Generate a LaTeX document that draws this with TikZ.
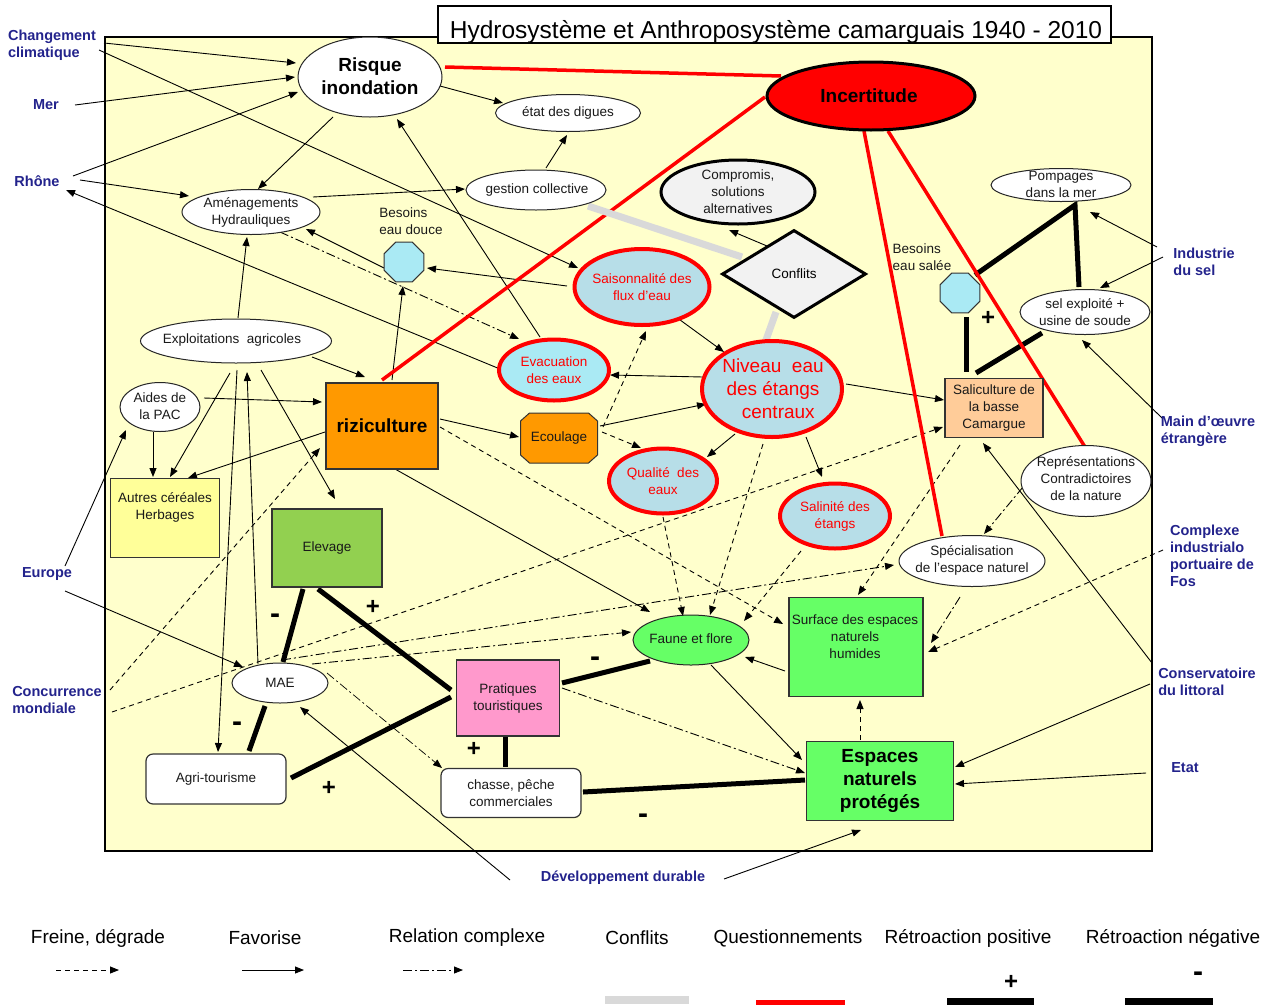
\documentclass[tikz,border=0pt]{standalone}
\usepackage{fontspec}
\setmainfont{Liberation Sans}
\usetikzlibrary{shapes.geometric,arrows.meta,calc}
\pgfdeclarelayer{back}
\pgfdeclarelayer{links}
\pgfsetlayers{back,links,main}
\definecolor{bgyellow}{RGB}{255,255,204}
\definecolor{lblue}{RGB}{183,222,232}
\definecolor{cyanf}{RGB}{170,234,244}
\definecolor{navylab}{RGB}{35,35,140}
\definecolor{orng}{RGB}{255,153,0}
\definecolor{peach}{RGB}{255,204,153}
\definecolor{ylw}{RGB}{255,255,153}
\definecolor{elev}{RGB}{146,208,80}
\definecolor{grn}{RGB}{102,255,102}
\definecolor{pinkf}{RGB}{255,153,204}
\definecolor{lgray}{RGB}{242,242,242}
\definecolor{conflgray}{RGB}{217,217,217}
\newcommand\fsz[2]{\fontsize{#1pt}{#2pt}\selectfont}
\tikzset{
  ell/.style={ellipse, draw=black!85, line width=1pt, fill=white, inner sep=0pt},
  redell/.style={ellipse, draw=red, line width=4pt, fill=lblue, inner sep=0pt},
  thkell/.style={ellipse, draw=black, line width=3pt, fill=lgray, inner sep=0pt},
  boxn/.style={rectangle, draw=black!80, line width=1.2pt, inner sep=0pt},
  rbox/.style={boxn, rounded corners=7pt, fill=white},
  oct/.style={regular polygon, regular polygon sides=8, draw=black!80, line width=1pt, fill=cyanf, minimum size=43pt, inner sep=0pt},
  txt/.style={align=center, inner sep=0pt, font=\fsz{13.5}{17}, text=black!90},
  redtxt/.style={txt, text=red},
  bigtxt/.style={align=center, inner sep=0pt, font=\bfseries\fsz{19}{23}},
  extlab/.style={align=left, inner sep=0pt, text=navylab, font=\bfseries\fsz{14.5}{17}},
  sign/.style={inner sep=0pt, font=\bfseries\fsz{24}{24}},
  minus/.style={inner sep=0pt, font=\bfseries\fsz{30}{30}},
  legtxt/.style={inner sep=0pt, font=\fsz{19}{22}},
  fav/.style={-{Triangle[length=9pt,width=7pt]}, line width=0.9pt},
  freine/.style={fav, dash pattern=on 5pt off 4pt},
  complexe/.style={fav, dash pattern=on 9pt off 3pt on 2pt off 3pt},
  retro/.style={line width=5pt},
  quest/.style={draw=red, line width=3.5pt},
  confl/.style={draw=conflgray, line width=7pt},
}
\begin{document}
\begin{tikzpicture}[x=1pt,y=-1pt]
\useasboundingbox (0,0) rectangle (1271,1007);
\begin{pgfonlayer}{back}
\draw[fill=bgyellow, line width=1.2pt] (105,37) rectangle (1152,851);
\end{pgfonlayer}

% title
\node[draw=black, line width=1.2pt, fill=white, minimum width=673pt, minimum height=37pt, inner sep=0pt] (titre) at (774.5,24.5) {};
\node[inner sep=0pt, font=\fsz{24.5}{28}] (titreT) at (776,32) {Hydrosystème et Anthroposystème camarguais 1940 - 2010};

% external labels
\node[extlab] (chg) at (52,45) {Changement\\climatique};
\node[extlab] (mer) at (46,105) {Mer};
\node[extlab] (rhone) at (37,181) {Rhône};
\node[extlab] (europe) at (47,574) {Europe};
\node[extlab] (concur) at (57,700) {Concurrence\\mondiale};
\node[extlab] (industrie) at (1204,262) {Industrie\\du sel};
\node[extlab] (main) at (1208,431) {Main d'œuvre\\étrangère};
\node[extlab] (fos) at (1212,556) {Complexe\\industrialo\\portuaire de\\Fos};
\node[extlab] (conserv) at (1207,682) {Conservatoire\\du littoral};
\node[extlab] (etat) at (1185,768) {Etat};
\node[extlab] (devdur) at (623,878) {Développement durable};

% nodes
\node[ell, minimum width=144pt, minimum height=80pt] (risque) at (370,77) {};
\node[bigtxt] (risqueT) at (370,76) {Risque\\inondation};
\node[ellipse, draw=black, line width=3pt, fill=red, minimum width=208pt, minimum height=68pt, inner sep=0pt] (incert) at (871,96) {};
\node[bigtxt] (incertT) at (869,96) {Incertitude};
\node[ell, minimum width=145pt, minimum height=37pt] (digues) at (568,113) {};
\node[txt] (diguesT) at (568,113) {état des digues};
\node[ell, minimum width=140pt, minimum height=40pt] (gestion) at (536,190) {};
\node[txt] (gestionT) at (537,190) {gestion collective};
\node[thkell, minimum width=154pt, minimum height=64pt] (compromis) at (738,192) {};
\node[txt] (compromisT) at (738,192) {Compromis,\\solutions\\alternatives};
\node[diamond, draw=black, line width=3pt, fill=lgray, minimum width=144pt, minimum height=88pt, inner sep=0pt, font=\fsz{13.5}{17}] (conflits) at (794,274) {Conflits};
\node[ell, minimum width=140pt, minimum height=33pt] (pompages) at (1061,185) {};
\node[txt] (pompagesT) at (1061,184) {Pompages\\dans la mer};
\node[ell, minimum width=138pt, minimum height=45pt] (amen) at (251,212) {};
\node[txt] (amenT) at (251,212) {Aménagements\\Hydrauliques};
\node[oct] (octdouce) at (404,262) {};
\node[txt, align=left] (besD) at (411,221) {Besoins\\eau douce};
\node[redell, minimum width=135pt, minimum height=76pt] (saison) at (642,287) {};
\node[redtxt] (saisonT) at (642,287) {Saisonnalité des\\flux d'eau};
\node[oct] (octsalee) at (960,293) {};
\node[txt, align=left] (besS) at (922,257) {Besoins\\eau salée};
\node[ell, minimum width=130pt, minimum height=45pt] (sel) at (1085,312) {};
\node[txt] (selT) at (1085,312) {sel exploité +\\usine de soude};
\node[ell, minimum width=191pt, minimum height=44pt] (exploit) at (236,341) {};
\node[txt] (exploitT) at (232,340) {Exploitations\ \ agricoles};
\node[ell, minimum width=80pt, minimum height=49pt] (aides) at (160,407) {};
\node[txt] (aidesT) at (160,406) {Aides de\\la PAC};
\node[boxn, fill=orng, minimum width=112pt, minimum height=86pt, font=\bfseries\fsz{19}{23}] (riz) at (382,426) {riziculture};
\node[redell, fill=cyanf, minimum width=110pt, minimum height=61pt] (evac) at (554,370) {};
\node[redtxt] (evacT) at (554,370) {Evacuation\\des eaux};
\node[redell, minimum width=140pt, minimum height=96pt] (niveau) at (772,389) {};
\node[redtxt, font=\fsz{19}{23}] (niveauT) at (773,389) {Niveau\ \ eau\\des étangs\\\ \ centraux};
\coordinate (ecoC) at (559,438);
\draw[fill=orng, draw=black!80, line width=1pt] (ecoC) ++(-29.5,-25) -- ++(59,0) -- ++(9,8) -- ++(0,34) -- ++(-9,8) -- ++(-59,0) -- ++(-9,-8) -- ++(0,-34) -- cycle;
\node[txt, minimum width=77pt, minimum height=50pt] (ecoul) at (ecoC) {Ecoulage};
\node[redell, minimum width=108pt, minimum height=65pt] (qualite) at (663,481) {};
\node[redtxt] (qualiteT) at (663,481) {Qualité\ \ des\\eaux};
\node[redell, minimum width=110pt, minimum height=65pt] (salinite) at (835,516) {};
\node[redtxt] (saliniteT) at (835,516) {Salinité des\\étangs};
\node[boxn, fill=peach, minimum width=98pt, minimum height=59pt, txt] (salic) at (994,408) {Saliculture de\\la basse\\Camargue};
\node[ell, minimum width=130pt, minimum height=71pt] (repr) at (1086,481) {};
\node[txt] (reprT) at (1086,479) {Représentations\\Contradictoires\\de la nature};
\node[boxn, fill=ylw, minimum width=109pt, minimum height=79pt, txt] (cereales) at (165,518) {Autres céréales\\Herbages\\[6pt]};
\node[boxn, fill=elev, minimum width=110pt, minimum height=78pt, txt] (elevage) at (327,548) {Elevage};
\node[ell, minimum width=146pt, minimum height=51pt] (special) at (972,561) {};
\node[txt] (specialT) at (972,560) {Spécialisation\\de l'espace naturel};
\node[boxn, fill=grn, minimum width=134pt, minimum height=99pt] (surface) at (856,647) {};
\node[txt] (surfaceT) at (855,637) {Surface des espaces\\naturels\\humides};
\node[ellipse, draw=black!85, line width=1pt, fill=grn, inner sep=0pt, minimum width=116pt, minimum height=50pt] (faune) at (691,640) {};
\node[txt] (fauneT) at (691,639) {Faune et flore};
\node[ell, minimum width=96pt, minimum height=40pt] (mae) at (280,683) {};
\node[txt] (maeT) at (280,683) {MAE};
\node[boxn, fill=pinkf, minimum width=103pt, minimum height=76pt, txt] (prat) at (508,698) {Pratiques\\touristiques};
\node[rbox, minimum width=140pt, minimum height=50pt, txt] (agri) at (216,779) {Agri-tourisme};
\node[rbox, minimum width=140pt, minimum height=49pt, txt] (chasse) at (511,793) {chasse, pêche\\commerciales};
\node[boxn, fill=grn, minimum width=147pt, minimum height=79pt, bigtxt] (espaces) at (880,781) {Espaces\\naturels\\protégés};

% signs
\node[minus] (s1) at (275,619) {-};
\node[sign] (s2) at (373,607) {+};
\node[sign] (s3) at (329,788) {+};
\node[minus] (s4) at (237,727) {-};
\node[minus] (s5) at (595,662) {-};
\node[sign] (s6) at (474,749) {+};
\node[minus] (s7) at (643,819) {-};
\node[sign] (s8) at (988,318) {+};

\begin{pgfonlayer}{links}
% favorise
\draw[fav] ($(chg)+(52,-2)$) -- ($(risque)+(-74,-14)$);
\draw[fav] ($(chg)+(47,5)$) -- ($(saison)+(-64,-19)$);
\draw[fav] ($(mer)+(29,0)$) -- ($(risque)+(-75,0)$);
\draw[fav] ($(rhone)+(36,-5)$) -- ($(risque)+(-72,15)$);
\draw[fav] ($(rhone)+(43,-1)$) -- ($(amen)+(-62,-16)$);
\draw[fav] ($(evac)+(-54,-1)$) -- ($(rhone)+(29,9)$);
\draw[fav] ($(risque)+(-37,40)$) -- ($(amen)+(7,-23)$);
\draw[fav] ($(risque)+(70,9)$) -- ($(digues)+(-65,-10)$);
\draw[fav] ($(gestion)+(10,-22)$) -- ($(digues)+(-1,22)$);
\draw[fav] ($(amen)+(62,-15)$) -- ($(gestion)+(-71,-1)$);
\draw[fav] ($(evac)+(-14,-33)$) -- ($(risque)+(27,42)$);
\draw[fav] ($(exploit)+(2,-23)$) -- ($(amen)+(-4,25)$);
\draw[fav] ($(octdouce)+(-20,6)$) -- ($(amen)+(55,17)$);
\draw[fav] ($(saison)+(-75,-1)$) -- ($(octdouce)+(23,6)$);
\draw[fav] ($(riz)+(10,-46)$) -- ($(octdouce)+(-1,24)$);
\draw[fav] ($(saison)+(34,30)$) -- ($(niveau)+(-48,-37)$);
\draw[fav] ($(niveau)+(-69,-12)$) -- ($(evac)+(56,5)$);
\draw[fav] ($(ecoul)+(41,-12)$) -- ($(niveau)+(-66,15)$);
\draw[fav] ($(riz)+(58,-7)$) -- ($(ecoul)+(-40,-1)$);
\draw[fav] ($(niveau)+(-37,45)$) -- ($(qualite)+(44,-24)$);
\draw[fav] ($(niveau)+(34,48)$) -- ($(salinite)+(-13,-39)$);
\draw[fav] ($(niveau)+(74,-5)$) -- ($(salic)+(-50,-8)$);
\draw[fav] ($(exploit)+(76,16)$) -- ($(riz)+(-17,-49)$);
\draw[fav] ($(aides)+(44,-9)$) -- ($(riz)+(-60,-24)$);
\draw[fav] ($(aides)+(-7,25)$) -- ($(cereales)+(-12,-41)$);
\draw[fav] ($(exploit)+(-6,32)$) -- ($(cereales)+(5,-41)$);
\draw[fav] ($(riz)+(-57,6)$) -- ($(cereales)+(23,-40)$);
\draw[fav] ($(exploit)+(25,29)$) -- ($(elevage)+(8,-49)$);
\draw[fav] ($(exploit)+(1,29)$) -- ($(agri)+(2,-27)$);
\draw[fav] ($(mae)+(-22,-19)$) -- ($(exploit)+(11,31)$);
\draw[fav] ($(europe)+(18,-8)$) -- ($(aides)+(-34,23)$);
\draw[fav] ($(europe)+(18,17)$) -- ($(mae)+(-37,-16)$);
\draw[fav] ($(devdur)+(-113,2)$) -- ($(mae)+(20,24)$);
\draw[fav] ($(devdur)+(101,1)$) -- ($(espaces)+(-19,49)$);
\draw[fav] ($(riz)+(13,43)$) -- ($(faune)+(-41,-28)$);
\draw[fav] ($(faune)+(20,25)$) -- ($(espaces)+(-78,-21)$);
\draw[fav] ($(surface)+(-71,24)$) -- ($(faune)+(54,17)$);
\draw[fav] ($(conserv)+(-57,2)$) -- ($(espaces)+(75,-14)$);
\draw[fav] ($(etat)+(-39,5)$) -- ($(espaces)+(75,3)$);
\draw[fav] ($(conserv)+(-55,-19)$) -- ($(salic)+(-11,35)$);
\draw[fav] ($(industrie)+(-47,-15)$) -- ($(pompages)+(29,27)$);
\draw[fav] ($(industrie)+(-41,-5)$) -- ($(sel)+(15,-24)$);
\draw[fav] ($(main)+(-46,-13)$) -- ($(sel)+(-3,28)$);
\draw[fav] ($(conflits)+(-27,-28)$) -- ($(compromis)+(-9,38)$);
% freine
\draw[freine] ($(ecoul)+(44,-11)$) -- ($(saison)+(4,44)$);
\draw[freine] ($(ecoul)+(43,-6)$) -- ($(qualite)+(-22,-33)$);
\draw[freine] ($(riz)+(58,1)$) -- ($(surface)+(-73,-23)$);
\draw[freine] ($(qualite)+(0,36)$) -- ($(faune)+(-8,-24)$);
\draw[freine] ($(niveau)+(-9,55)$) -- ($(faune)+(19,-25)$);
\draw[freine] ($(salinite)+(-34,35)$) -- ($(faune)+(53,-19)$);
\draw[freine] ($(concur)+(55,12)$) -- ($(salic)+(-51,19)$);
\draw[freine] ($(concur)+(53,-10)$) -- ($(riz)+(-62,22)$);
\draw[freine] ($(salic)+(-34,37)$) -- ($(surface)+(2,-52)$);
\draw[freine] ($(fos)+(-49,-6)$) -- ($(surface)+(72,5)$);
\draw[freine] ($(espaces)+(-20,-41)$) -- ($(surface)+(4,53)$);
% relation complexe
\draw[complexe] ($(amen)+(29,20)$) -- ($(evac)+(-35,-31)$);
\draw[complexe] ($(mae)+(32,-19)$) -- ($(faune)+(-60,-8)$);
\draw[complexe] ($(mae)+(2,-23)$) -- ($(special)+(-78,4)$);
\draw[complexe, line width=0.7pt] ($(mae)+(47,-10)$) -- ($(chasse)+(-69,-25)$);
\draw[complexe] ($(prat)+(54,-10)$) -- ($(espaces)+(-75,-8)$);
\draw[complexe] ($(repr)+(-63,6)$) -- ($(special)+(12,-27)$);
\draw[complexe] ($(special)+(-12,36)$) -- ($(surface)+(75,-4)$);
% retroactions
\draw[retro] ($(elevage)+(-24,41)$) -- ($(mae)+(3,-21)$);
\draw[retro] ($(elevage)+(-9,41)$) -- ($(prat)+(-57,-8)$);
\draw[retro] ($(agri)+(75,-1)$) -- ($(prat)+(-57,-1)$);
\draw[retro] ($(mae)+(-15,23)$) -- ($(agri)+(33,-28)$);
\draw[retro] ($(prat)+(54,-15)$) -- ($(faune)+(-41,21)$);
\draw[retro] ($(prat)+(-3,39)$) -- ($(chasse)+(-6,-26)$);
\draw[retro] ($(chasse)+(72,-1)$) -- ($(espaces)+(-75,-1)$);
\draw[retro] ($(octsalee)+(15,-18)$) -- ($(pompages)+(14,20)$) -- ($(sel)+(-6,-25)$);
\draw[retro] ($(octsalee)+(6,24)$) -- ($(salic)+(-28,-36)$);
\draw[retro] ($(salic)+(-18,-35)$) -- ($(sel)+(-43,21)$);
% questionnements
\draw[quest] ($(risque)+(75,-10)$) -- ($(incert)+(-90,-20)$);
\draw[quest] ($(riz)+(0,-46)$) -- ($(incert)+(-106,1)$);
\draw[quest] ($(incert)+(-7,35)$) -- ($(special)+(-30,-25)$);
\draw[quest] ($(incert)+(17,35)$) -- ($(repr)+(-1,-34)$);
% conflits
\draw[confl] ($(gestion)+(52,16)$) -- ($(conflits)+(-52,-17)$);
\draw[confl] ($(conflits)+(-18,38)$) -- ($(niveau)+(-6,-49)$);
\end{pgfonlayer}

% legend
\node[legtxt] (lg1) at (98,938) {Freine, dégrade};
\node[legtxt] (lg2) at (265,938) {Favorise};
\node[legtxt] (lg3) at (467,938) {Relation complexe};
\node[legtxt] (lg4) at (637,938) {Conflits};
\node[legtxt] (lg5) at (788,938) {Questionnements};
\node[legtxt] (lg6) at (968,938) {Rétroaction positive};
\node[legtxt] (lg7) at (1173,938) {Rétroaction négative};
\coordinate (la1) at (56,970); \coordinate (lb1) at (119,970);
\coordinate (la2) at (242,970); \coordinate (lb2) at (304,970);
\coordinate (la3) at (403,970); \coordinate (lb3) at (463,970);
\coordinate (la4) at (605,1000); \coordinate (lb4) at (689,1000);
\coordinate (la5) at (756,1002); \coordinate (lb5) at (845,1002);
\coordinate (la6) at (947,1001); \coordinate (lb6) at (1034,1001);
\coordinate (la7) at (1125,1001); \coordinate (lb7) at (1213,1001);
\draw[freine] (la1) -- (lb1);
\draw[fav] (la2) -- (lb2);
\draw[complexe] (la3) -- (lb3);
\draw[confl, line width=8pt] (la4) -- (lb4);
\draw[quest, line width=5pt] (la5) -- (lb5);
\draw[retro, line width=7pt] (la6) -- (lb6);
\draw[retro, line width=7pt] (la7) -- (lb7);
\node[sign] (lsp) at (1011,982) {+};
\node[minus] (lsm) at (1198,977) {-};
\end{tikzpicture}
\end{document}
